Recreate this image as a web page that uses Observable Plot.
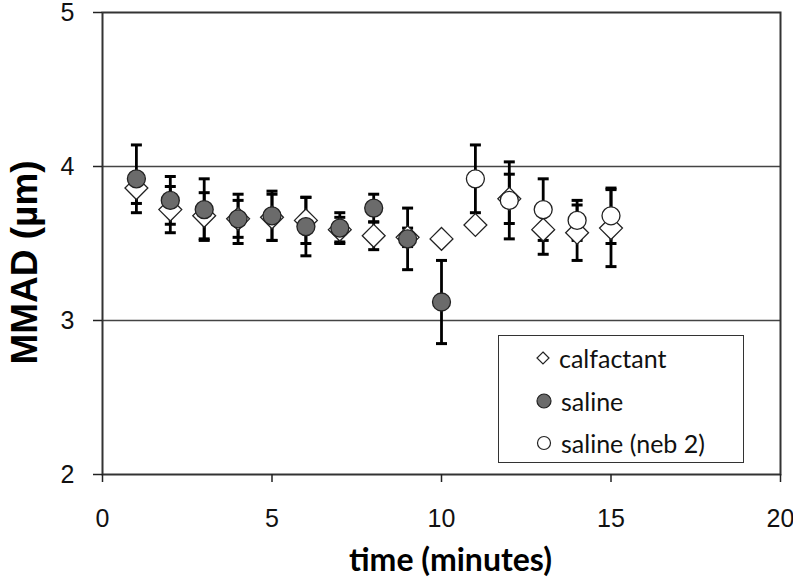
<!DOCTYPE html>
<html><head><meta charset="utf-8">
<script src="https://cdn.jsdelivr.net/npm/d3@7"></script>
<script src="https://cdn.jsdelivr.net/npm/@observablehq/plot@0.6"></script>
<style>
body{margin:0;background:#fff;}
#wrap{position:relative;width:793px;height:582px;}
#wrap svg text{font-family:Arial, "Liberation Sans", sans-serif;}
#wrap svg text.lato{font-family:Lato, sans-serif;}
#legend{position:absolute;left:498px;top:335px;width:244px;height:126px;border:1.5px solid #333;background:#fff;font-family:Lato, sans-serif;font-size:25px;color:#111;}
.row{position:absolute;left:37px;height:30px;display:flex;align-items:center;}
.row svg{margin-right:9px;}
</style>
</head><body><div id="wrap"><div id="legend"></div></div>
<script>
// --- data ---
const seriesNames = ["calfactant", "saline", "saline (neb 2)"];
const calfactantTimes = [1, 2, 3, 4, 5, 6, 7, 8, 9, 10, 11, 12, 13, 14, 15];
const calfactantMean  = [3.86, 3.72, 3.68, 3.66, 3.67, 3.65, 3.59, 3.55, 3.54, 3.53, 3.62, 3.79, 3.59, 3.57, 3.60];
const calfactantErr   = [0.10, 0.15, 0.15, 0.12, 0.15, 0.15, 0.08, 0.09, 0.06, 0.02, 0.03, 0.16, 0.16, 0.18, 0.25];
const salineTimes = [1, 2, 3, 4, 5, 6, 7, 8, 9, 10];
const salineMean  = [3.92, 3.78, 3.72, 3.66, 3.68, 3.61, 3.60, 3.73, 3.53, 3.12];
const salineErr   = [0.22, 0.155, 0.20, 0.16, 0.16, 0.19, 0.10, 0.09, 0.20, 0.27];
const neb2Times = [11, 12, 13, 14, 15];
const neb2Mean  = [3.92, 3.78, 3.72, 3.65, 3.68];
const neb2Err   = [0.22, 0.25, 0.20, 0.13, 0.18];
const xTicks = [0, 5, 10, 15, 20];
const yTicks = [2, 3, 4, 5];
const gridValues = [3, 4];
const xLabel = "time (minutes)";
const yLabel = "MMAD (µm)";

const build = (name, ts, ms, es) => ts.map((t, i) => ({series: name, t, mean: ms[i], err: es[i]}));
const cal = build(seriesNames[0], calfactantTimes, calfactantMean, calfactantErr);
const sal = build(seriesNames[1], salineTimes, salineMean, salineErr);
const neb = build(seriesNames[2], neb2Times, neb2Mean, neb2Err);
const all = [...cal, ...sal, ...neb];
const caps = all.flatMap(d => [{t: d.t, y: d.mean - d.err}, {t: d.t, y: d.mean + d.err}]);

const capSymbol = {draw(ctx) { ctx.moveTo(-5.5, 0); ctx.lineTo(5.5, 0); }};

const chart = Plot.plot({
  width: 793, height: 582,
  marginLeft: 102, marginRight: 13, marginTop: 12, marginBottom: 108,
  x: {domain: [0, 20]},
  y: {domain: [2, 5]},
  style: {fontSize: "25px", color: "#111", background: "#fff"},
  marks: [
    Plot.ruleY(gridValues, {stroke: "#444", strokeWidth: 1.5}),
    Plot.frame({stroke: "#333", strokeWidth: 2}),
    Plot.axisY({ticks: yTicks, tickFormat: d3.format("d"), tickSize: 9, tickPadding: 19, fontSize: 25, label: null, stroke: "#222", strokeWidth: 1.5}),
    Plot.axisX({ticks: xTicks, tickFormat: d3.format("d"), tickSize: 8, tickPadding: 27, fontSize: 25, label: null, stroke: "#222", strokeWidth: 1.5}),
    Plot.ruleX(all, {x: "t", y1: d => d.mean - d.err, y2: d => d.mean + d.err, stroke: "#000", strokeWidth: 2.8}),
    Plot.dot(caps, {x: "t", y: "y", symbol: capSymbol, stroke: "#000", strokeWidth: 3, fill: "none"}),
    Plot.dot(cal, {x: "t", y: "mean", symbol: "diamond2", r: 10.3, fill: "#fff", stroke: "#222", strokeWidth: 1.3}),
    Plot.dot(sal, {x: "t", y: "mean", symbol: "circle", r: 9, fill: "#6b6b6b", stroke: "#222", strokeWidth: 1.3}),
    Plot.dot(neb, {x: "t", y: "mean", symbol: "circle", r: 9, fill: "#fff", stroke: "#222", strokeWidth: 1.3}),
    Plot.text([yLabel], {frameAnchor: "left", textAnchor: "middle", rotate: -90, dx: -77, dy: 19,
      fontSize: 37, fontWeight: "bold", fill: "#000"}),
    Plot.text([xLabel], {frameAnchor: "bottom", textAnchor: "middle", dx: 9, dy: 96,
      fontSize: 32, fontWeight: "bold", fill: "#000", className: "lato"})
  ]
});
document.getElementById("wrap").prepend(chart);
// the x-axis title uses Lato (Calibri-like), everything else in the SVG uses Arial
chart.querySelectorAll("text").forEach(t => { if (t.textContent === xLabel) t.classList.add("lato"); });

// legend
const legend = document.getElementById("legend");
const symbols = [
  '<svg width="14" height="14" viewBox="-7 -7 14 14"><path d="M0,-6L6,0L0,6L-6,0Z" fill="#fff" stroke="#222" stroke-width="1.2"/></svg>',
  '<svg width="16" height="16" viewBox="-8 -8 16 16"><circle r="7" fill="#6b6b6b" stroke="#222" stroke-width="1.2"/></svg>',
  '<svg width="16" height="16" viewBox="-8 -8 16 16"><circle r="6.5" fill="#fff" stroke="#222" stroke-width="1.2"/></svg>'
];
seriesNames.forEach((name, i) => {
  const row = document.createElement("div");
  row.className = "row";
  row.style.top = (7 + i * 42.5) + "px";
  row.innerHTML = symbols[i] + "<span>" + name + "</span>";
  legend.appendChild(row);
});
</script>
</body></html>
